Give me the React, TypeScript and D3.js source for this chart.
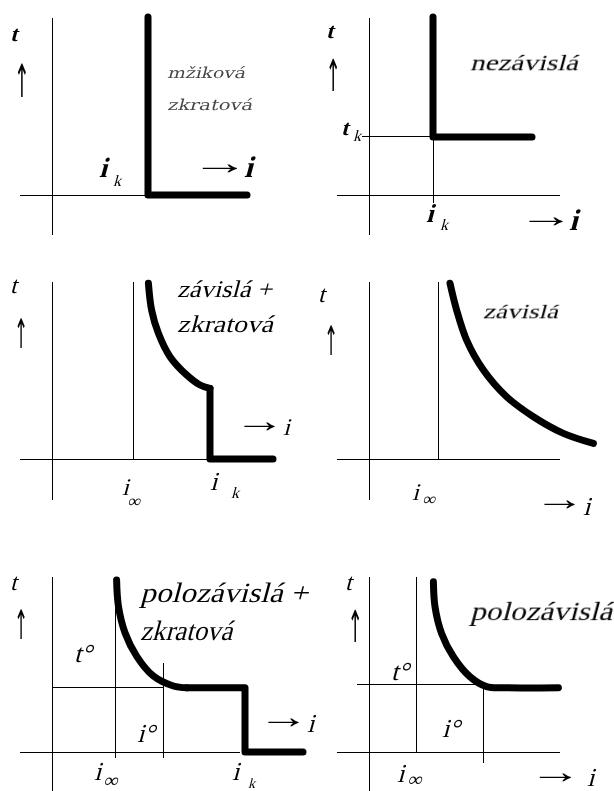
import React from "react";
import * as d3 from "d3";

const SERIF = "'Liberation Serif', 'Times New Roman', serif";
const SLAB = "'DejaVu Serif', serif";
const ARROW_UP = "'DejaVu Sans', sans-serif";

// ---------- data (panel units: x 0..10, y 0..10) ----------
// Panel 1: mžiková zkratová
const p1XAxis = [-1.6, 4.8];
const p1YAxis = [-2.26, 10];
const p1Step: [number, number][] = [[4.8, 10.05], [4.8, 0], [9.75, 0]];

// Panel 2: nezávislá
const p2XAxis = [-1.6, 9.55];
const p2YAxis = [-2.26, 10];
const p2Guides: [number, number][][] = [
  [[-0.35, 3.28], [3.2, 3.28]],
  [[3.2, 3.28], [3.2, -0.45]],
];
const p2Step: [number, number][] = [[3.2, 10.05], [3.2, 3.28], [8.15, 3.28]];

// Panel 3: závislá + zkratová
const p3XAxis = [-1.6, 7.9];
const p3YAxis = [-2.3, 10];
const p3Guides: [number, number][][] = [[[4.05, 0], [4.05, 10]]];
const p3Curve: [number, number][] = [
  [4.82, 9.93], [4.98, 8.42], [5.32, 7.1], [5.9, 5.78], [6.73, 4.75], [7.4, 4.18], [7.9, 3.99],
];
const p3Step: [number, number][] = [[7.9, 3.99], [7.9, 0], [11.05, 0]];

// Panel 4: závislá
const p4XAxis = [-1.6, 9.55];
const p4YAxis = [-2.3, 10];
const p4Guides: [number, number][][] = [[[3.45, 0], [3.45, 10]]];
const p4Curve: [number, number][] = [
  [4.05, 9.93], [4.38, 8.42], [4.88, 6.72], [5.72, 5.03], [6.88, 3.52], [8.22, 2.39], [9.72, 1.45], [11.22, 0.88],
];

// Panel 5: polozávislá + zkratová
const p5XAxis = [-1.6, 9.4];
const p5YAxis = [-2.2, 9.89];
const p5Guides: [number, number][][] = [
  [[0, 3.62], [5.55, 3.62]],
  [[3.15, 9.89], [3.15, -0.34]],
  [[5.55, 5.03], [5.55, -0.34]],
];
const p5Curve: [number, number][] = [
  [3.23, 9.72], [3.32, 8.25], [3.65, 6.74], [4.23, 5.42], [5.07, 4.29], [6.07, 3.73], [6.73, 3.63],
];
const p5Step: [number, number][] = [[6.73, 3.63], [9.65, 3.63], [9.65, 0], [12.55, 0]];

// Panel 6: polozávislá
const p6XAxis = [-1.6, 9.55];
const p6YAxis = [-2.2, 9.89];
const p6Guides: [number, number][][] = [
  [[-0.6, 3.79], [5.7, 3.79]],
  [[2.35, 9.89], [2.35, 0]],
  [[5.7, 3.79], [5.7, -0.62]],
];
const p6Curve: [number, number][] = [
  [3.22, 9.62], [3.3, 8.21], [3.63, 6.7], [4.22, 5.38], [5.05, 4.25], [5.88, 3.69], [6.88, 3.63], [9.47, 3.63],
];

type Label = {
  t: string; dx: number; dy: number; size: number; bold?: boolean; upright?: boolean;
  len?: number; font?: string; fill?: string; anchor?: string; sx?: number; sy?: number;
};

const UP = { upright: true, font: ARROW_UP, anchor: "middle", sx: 0.7, sy: 1.7 };

const p1Labels: Label[] = [
  { t: "t", dx: -42, dy: -154, size: 22, bold: true },
  { t: "↑", dx: -30, dy: -98, size: 27, ...UP },
  { t: "mžiková", dx: 115, dy: -117, size: 15, font: SLAB, fill: "#444", len: 78 },
  { t: "zkratová", dx: 115, dy: -85, size: 15, font: SLAB, fill: "#444", len: 85 },
  { t: "i", dx: 47, dy: -18, size: 28, bold: true },
  { t: "k", dx: 61, dy: -9, size: 16 },
  { t: "→", dx: 139, dy: -21, size: 34, bold: true, upright: true, sx: 1.7 },
  { t: "i", dx: 192, dy: -18, size: 30, bold: true },
];

const p2Labels: Label[] = [
  { t: "t", dx: -43, dy: -157, size: 22, bold: true },
  { t: "↑", dx: -36, dy: -104, size: 26, ...UP },
  { t: "nezávislá", dx: 101, dy: -125, size: 22, len: 108 },
  { t: "t", dx: -28, dy: -60, size: 22, bold: true },
  { t: "k", dx: -16, dy: -54, size: 16 },
  { t: "i", dx: 57, dy: 27, size: 26, bold: true },
  { t: "k", dx: 71, dy: 35, size: 16 },
  { t: "→", dx: 149, dy: 32, size: 34, bold: true, upright: true, sx: 1.65 },
  { t: "i", dx: 200, dy: 35, size: 30, bold: true },
];

const p3Labels: Label[] = [
  { t: "t", dx: -42, dy: -166, size: 24 },
  { t: "↑", dx: -31, dy: -111, size: 24, ...UP },
  { t: "závislá +", dx: 125, dy: -162, size: 24, len: 95 },
  { t: "zkratová", dx: 125, dy: -127, size: 24, len: 96 },
  { t: "→", dx: 182, dy: -27, size: 34, upright: true, sx: 1.5 },
  { t: "i", dx: 231, dy: -24, size: 24 },
  { t: "i", dx: 70, dy: 36, size: 24 },
  { t: "∞", dx: 75, dy: 48, size: 18 },
  { t: "i", dx: 158, dy: 31, size: 26 },
  { t: "k", dx: 179, dy: 39, size: 16 },
];

const p4Labels: Label[] = [
  { t: "t", dx: -51, dy: -157, size: 24 },
  { t: "↑", dx: -38, dy: -104, size: 24, ...UP },
  { t: "závislá", dx: 114, dy: -141, size: 21, len: 75 },
  { t: "i", dx: 43, dy: 41, size: 24 },
  { t: "∞", dx: 53, dy: 46, size: 18 },
  { t: "→", dx: 165, dy: 51, size: 34, upright: true, sx: 1.5 },
  { t: "i", dx: 214, dy: 56, size: 26 },
];

const p5Labels: Label[] = [
  { t: "t", dx: -42, dy: -162, size: 24 },
  { t: "↑", dx: -31, dy: -113, size: 24, ...UP },
  { t: "polozávislá +", dx: 88, dy: -150, size: 28, len: 168 },
  { t: "zkratová", dx: 88, dy: -112, size: 28, len: 92 },
  { t: "t°", dx: 22, dy: -90, size: 26 },
  { t: "i°", dx: 85, dy: -10, size: 26 },
  { t: "i", dx: 42, dy: 28, size: 26 },
  { t: "∞", dx: 51, dy: 35, size: 20 },
  { t: "i", dx: 180, dy: 28, size: 26 },
  { t: "k", dx: 196, dy: 36, size: 14 },
  { t: "→", dx: 206, dy: -24, size: 34, upright: true, sx: 1.5 },
  { t: "i", dx: 255, dy: -20, size: 26 },
];

const p6Labels: Label[] = [
  { t: "t", dx: -24, dy: -162, size: 24 },
  { t: "↑", dx: -14, dy: -110, size: 26, ...UP },
  { t: "polozávislá", dx: 101, dy: -132, size: 26, len: 142 },
  { t: "t°", dx: 22, dy: -72, size: 26 },
  { t: "i°", dx: 73, dy: -15, size: 26 },
  { t: "i", dx: 28, dy: 30, size: 26 },
  { t: "∞", dx: 38, dy: 34, size: 20 },
  { t: "→", dx: 160, dy: 31, size: 34, upright: true, sx: 1.55 },
  { t: "i", dx: 218, dy: 34, size: 26 },
];

type PanelDef = {
  origin: [number, number];
  xAxis: number[];
  yAxis: number[];
  guides?: [number, number][][];
  curve?: [number, number][];
  step?: [number, number][];
  labels: Label[];
};

const panels: PanelDef[] = [
  { origin: [52, 195], xAxis: p1XAxis, yAxis: p1YAxis, step: p1Step, labels: p1Labels },
  { origin: [369, 195], xAxis: p2XAxis, yAxis: p2YAxis, guides: p2Guides, step: p2Step, labels: p2Labels },
  { origin: [52, 459], xAxis: p3XAxis, yAxis: p3YAxis, guides: p3Guides, curve: p3Curve, step: p3Step, labels: p3Labels },
  { origin: [369, 459], xAxis: p4XAxis, yAxis: p4YAxis, guides: p4Guides, curve: p4Curve, labels: p4Labels },
  { origin: [52, 752], xAxis: p5XAxis, yAxis: p5YAxis, guides: p5Guides, curve: p5Curve, step: p5Step, labels: p5Labels },
  { origin: [369, 752], xAxis: p6XAxis, yAxis: p6YAxis, guides: p6Guides, curve: p6Curve, labels: p6Labels },
];

const UNIT_X = 20;
const UNIT_Y = 17.7;
const SLANT = -15;

function Panel({ p }: { p: PanelDef }) {
  const [x0, y0] = p.origin;
  const x = d3.scaleLinear().domain([0, 10]).range([x0, x0 + 10 * UNIT_X]);
  const y = d3.scaleLinear().domain([0, 10]).range([y0, y0 - 10 * UNIT_Y]);
  const straight = d3.line<[number, number]>().x((d) => x(d[0])).y((d) => y(d[1]));
  const smooth = d3
    .line<[number, number]>()
    .x((d) => x(d[0]))
    .y((d) => y(d[1]))
    .curve(d3.curveCatmullRom.alpha(0.5));
  const thin = { stroke: "#000", strokeWidth: 1, fill: "none", shapeRendering: "crispEdges" as const };
  const thick = { stroke: "#000", strokeWidth: 7, fill: "none", strokeLinecap: "round" as const, strokeLinejoin: "round" as const };
  return (
    <g>
      <line x1={x(p.xAxis[0])} x2={x(p.xAxis[1])} y1={y(0)} y2={y(0)} {...thin} />
      <line x1={x(0)} x2={x(0)} y1={y(p.yAxis[0])} y2={y(p.yAxis[1])} {...thin} />
      {(p.guides || []).map((g, i) => (
        <path key={i} d={straight(g) || ""} {...thin} />
      ))}
      {p.curve && <path d={smooth(p.curve) || ""} {...thick} />}
      {p.step && <path d={straight(p.step) || ""} {...thick} />}
      <g opacity={0.99}>
        {p.labels.map((l, i) => {
          const tf =
            `translate(${x0 + l.dx},${y0 + l.dy})` +
            (l.upright ? "" : ` skewX(${SLANT})`) +
            (l.sx || l.sy ? ` scale(${l.sx || 1},${l.sy || 1})` : "");
          return (
            <text
              key={i}
              transform={tf}
              x={0}
              y={0}
              fontFamily={l.font || SERIF}
              fontSize={l.size}
              fontStyle="normal"
              fontWeight={l.bold ? "bold" : "normal"}
              fill={l.fill || "#000"}
              textAnchor={l.anchor || "start"}
              {...(l.len ? { textLength: l.len, lengthAdjust: "spacingAndGlyphs" } : {})}
            >
              {l.t}
            </text>
          );
        })}
      </g>
    </g>
  );
}

export default function App() {
  return (
    <svg
      width={614}
      height={791}
      viewBox="0 0 614 791"
      style={{ position: "absolute", left: 0, top: 0, background: "#fff" }}
    >
      <rect x={0} y={0} width={614} height={791} fill="#fff" />
      {panels.map((p, i) => (
        <Panel key={i} p={p} />
      ))}
    </svg>
  );
}
